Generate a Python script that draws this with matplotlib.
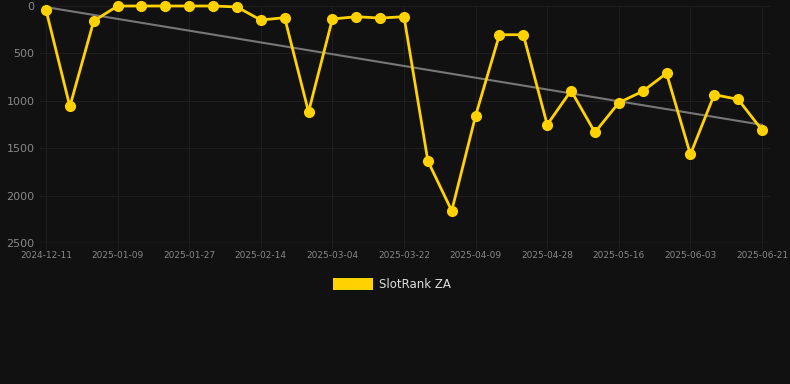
import numpy as np
import matplotlib.pyplot as plt
from matplotlib.patches import Rectangle

# rank per snapshot (lower is better, axis inverted)
ranks = [40, 1060, 158, 0, 0, 0, 0, 0, 10, 148, 123, 1118, 137, 113, 127, 113,
         1635, 2160, 1157, 303, 303, 1252, 893, 1333, 1020, 900, 710, 1565,
         935, 985, 1308]
tick_labels = ["2024-12-11", "2025-01-09", "2025-01-27", "2025-02-14", "2025-03-04",
               "2025-03-22", "2025-04-09", "2025-04-28", "2025-05-16", "2025-06-03",
               "2025-06-21"]
y_ticks = [0, 500, 1000, 1500, 2000, 2500]
series_name = "SlotRank ZA"

bg = "#111111"
gold = "#FFD200"

fig = plt.figure(figsize=(7.9, 3.84), dpi=100, facecolor=bg)
ax = fig.add_axes([40 / 790, 1 - 243 / 384, 730 / 790, 237 / 384], facecolor=bg)

x = np.arange(len(ranks))
ax.set_xlim(-6 / 23.87, 30 + 8 / 23.87)
ax.set_ylim(2500, 0)

# trend line
k, b = np.polyfit(x, ranks, 1)
ax.plot([x[0], x[-1]], [b, k * x[-1] + b], color="#777777", lw=1.5, zorder=2)

ax.plot(x, ranks, color=gold, lw=2, marker="o", ms=7, zorder=3, clip_on=False)

ax.set_xticks(x[::3])
ax.set_xticklabels(tick_labels)
ax.set_yticks(y_ticks)
ax.grid(True, color="#1e1e1e", lw=0.8)
ax.set_axisbelow(True)
for s in ax.spines.values():
    s.set_visible(False)
ax.axhline(2500, color="#2c2c2c", lw=1, zorder=1)
ax.tick_params(axis="y", colors="#888888", labelsize=8, length=0, pad=4)
ax.tick_params(axis="x", colors="#888888", labelsize=6.5, length=4, width=0.8,
               color="#1e1e1e", pad=2)

# legend
fig.patches.append(Rectangle((333 / 790, 1 - 290 / 384), 40 / 790, 12 / 384,
                             transform=fig.transFigure, facecolor=gold, edgecolor="none"))
fig.text(379 / 790, 1 - 284.5 / 384, series_name, color="#dddddd", fontsize=8.5,
         va="center", ha="left")

fig.savefig("out.png", dpi=100, facecolor=bg)
